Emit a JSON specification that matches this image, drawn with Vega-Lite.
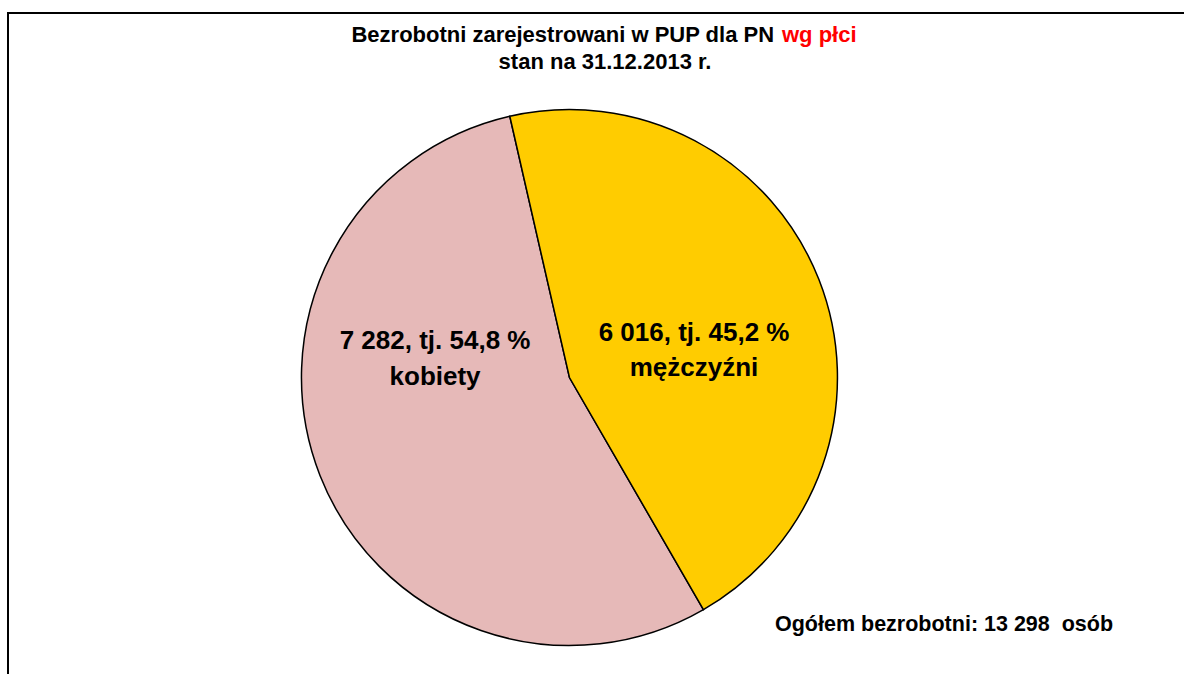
{
  "$schema": "https://vega.github.io/schema/vega-lite/v6.json",
  "autosize": {"type": "fit", "contains": "padding"},
  "width": 1184,
  "height": 674,
  "padding": {"left": 8, "top": 13, "right": -6, "bottom": -6},
  "background": "white",
  "config": {
    "view": {"stroke": "black", "strokeWidth": 2},
    "font": "Liberation Sans",
    "text": {"font": "Liberation Sans", "fontWeight": "bold", "color": "black"}
  },
  "datasets": {
    "plec": [
      {"plec": "kobiety", "liczba": 7282, "etykieta": "7 282, tj. 54,8 %\nkobiety"},
      {"plec": "mężczyźni", "liczba": 6016, "etykieta": "6 016, tj. 45,2 %\nmężczyźni"}
    ],
    "teksty": [
      {"id": "t1", "tekst": "Bezrobotni zarejestrowani w PUP dla PN"},
      {"id": "t2", "tekst": "wg płci"},
      {"id": "t3", "tekst": "stan na 31.12.2013 r."},
      {"id": "t4", "tekst": "Ogółem bezrobotni: 13 298 \u00a0osób"}
    ]
  },
  "layer": [
    {
      "data": {"name": "plec"},
      "mark": {"type": "arc", "outerRadius": 268, "stroke": "black", "strokeWidth": 1.5},
      "encoding": {
        "theta": {"field": "liczba", "type": "quantitative", "stack": true, "scale": {"range": [2.618, 8.9012]}},
        "color": {"field": "plec", "type": "nominal", "scale": {"domain": ["kobiety", "mężczyźni"], "range": ["#E6B9B8", "#FFCC00"]}, "legend": null},
        "order": {"field": "plec", "sort": "ascending"},
        "x": {"datum": 47.5, "type": "quantitative", "scale": {"domain": [0, 100]}, "axis": null},
        "y": {"datum": 54.65, "type": "quantitative", "scale": {"domain": [0, 100], "reverse": true}, "axis": null}
      }
    },
    {
      "data": {"name": "plec"},
      "transform": [{"filter": "datum.plec === 'kobiety'"}],
      "mark": {"type": "text", "fontSize": 26, "fontWeight": "bold", "lineBreak": "\n", "lineHeight": 36, "align": "center", "baseline": "alphabetic"},
      "encoding": {
        "text": {"field": "etykieta", "type": "nominal"},
        "x": {"datum": 36.13, "type": "quantitative", "scale": {"domain": [0, 100]}, "axis": null},
        "y": {"datum": 50.37, "type": "quantitative", "scale": {"domain": [0, 100], "reverse": true}, "axis": null}
      }
    },
    {
      "data": {"name": "plec"},
      "transform": [{"filter": "datum.plec === 'mężczyźni'"}],
      "mark": {"type": "text", "fontSize": 26, "fontWeight": "bold", "lineBreak": "\n", "lineHeight": 35, "align": "center", "baseline": "alphabetic"},
      "encoding": {
        "text": {"field": "etykieta", "type": "nominal"},
        "x": {"datum": 58.04, "type": "quantitative", "scale": {"domain": [0, 100]}, "axis": null},
        "y": {"datum": 49.18, "type": "quantitative", "scale": {"domain": [0, 100], "reverse": true}, "axis": null}
      }
    },
    {
      "data": {"name": "teksty"},
      "transform": [{"filter": "datum.id === 't1'"}],
      "mark": {"type": "text", "fontSize": 22, "fontWeight": "bold", "align": "right", "baseline": "alphabetic"},
      "encoding": {
        "text": {"field": "tekst", "type": "nominal"},
        "x": {"datum": 64.81, "type": "quantitative", "scale": {"domain": [0, 100]}, "axis": null},
        "y": {"datum": 4.35, "type": "quantitative", "scale": {"domain": [0, 100], "reverse": true}, "axis": null}
      }
    },
    {
      "data": {"name": "teksty"},
      "transform": [{"filter": "datum.id === 't2'"}],
      "mark": {"type": "text", "fontSize": 22, "fontWeight": "bold", "align": "left", "baseline": "alphabetic", "color": "#FF0000"},
      "encoding": {
        "text": {"field": "tekst", "type": "nominal"},
        "x": {"datum": 65.48, "type": "quantitative", "scale": {"domain": [0, 100]}, "axis": null},
        "y": {"datum": 4.35, "type": "quantitative", "scale": {"domain": [0, 100], "reverse": true}, "axis": null}
      }
    },
    {
      "data": {"name": "teksty"},
      "transform": [{"filter": "datum.id === 't3'"}],
      "mark": {"type": "text", "fontSize": 22, "fontWeight": "bold", "align": "center", "baseline": "alphabetic"},
      "encoding": {
        "text": {"field": "tekst", "type": "nominal"},
        "x": {"datum": 50.51, "type": "quantitative", "scale": {"domain": [0, 100]}, "axis": null},
        "y": {"datum": 8.4, "type": "quantitative", "scale": {"domain": [0, 100], "reverse": true}, "axis": null}
      }
    },
    {
      "data": {"name": "teksty"},
      "transform": [{"filter": "datum.id === 't4'"}],
      "mark": {"type": "text", "fontSize": 21.5, "fontWeight": "bold", "align": "left", "baseline": "alphabetic"},
      "encoding": {
        "text": {"field": "tekst", "type": "nominal"},
        "x": {"datum": 64.89, "type": "quantitative", "scale": {"domain": [0, 100]}, "axis": null},
        "y": {"datum": 92.65, "type": "quantitative", "scale": {"domain": [0, 100], "reverse": true}, "axis": null}
      }
    }
  ]
}
